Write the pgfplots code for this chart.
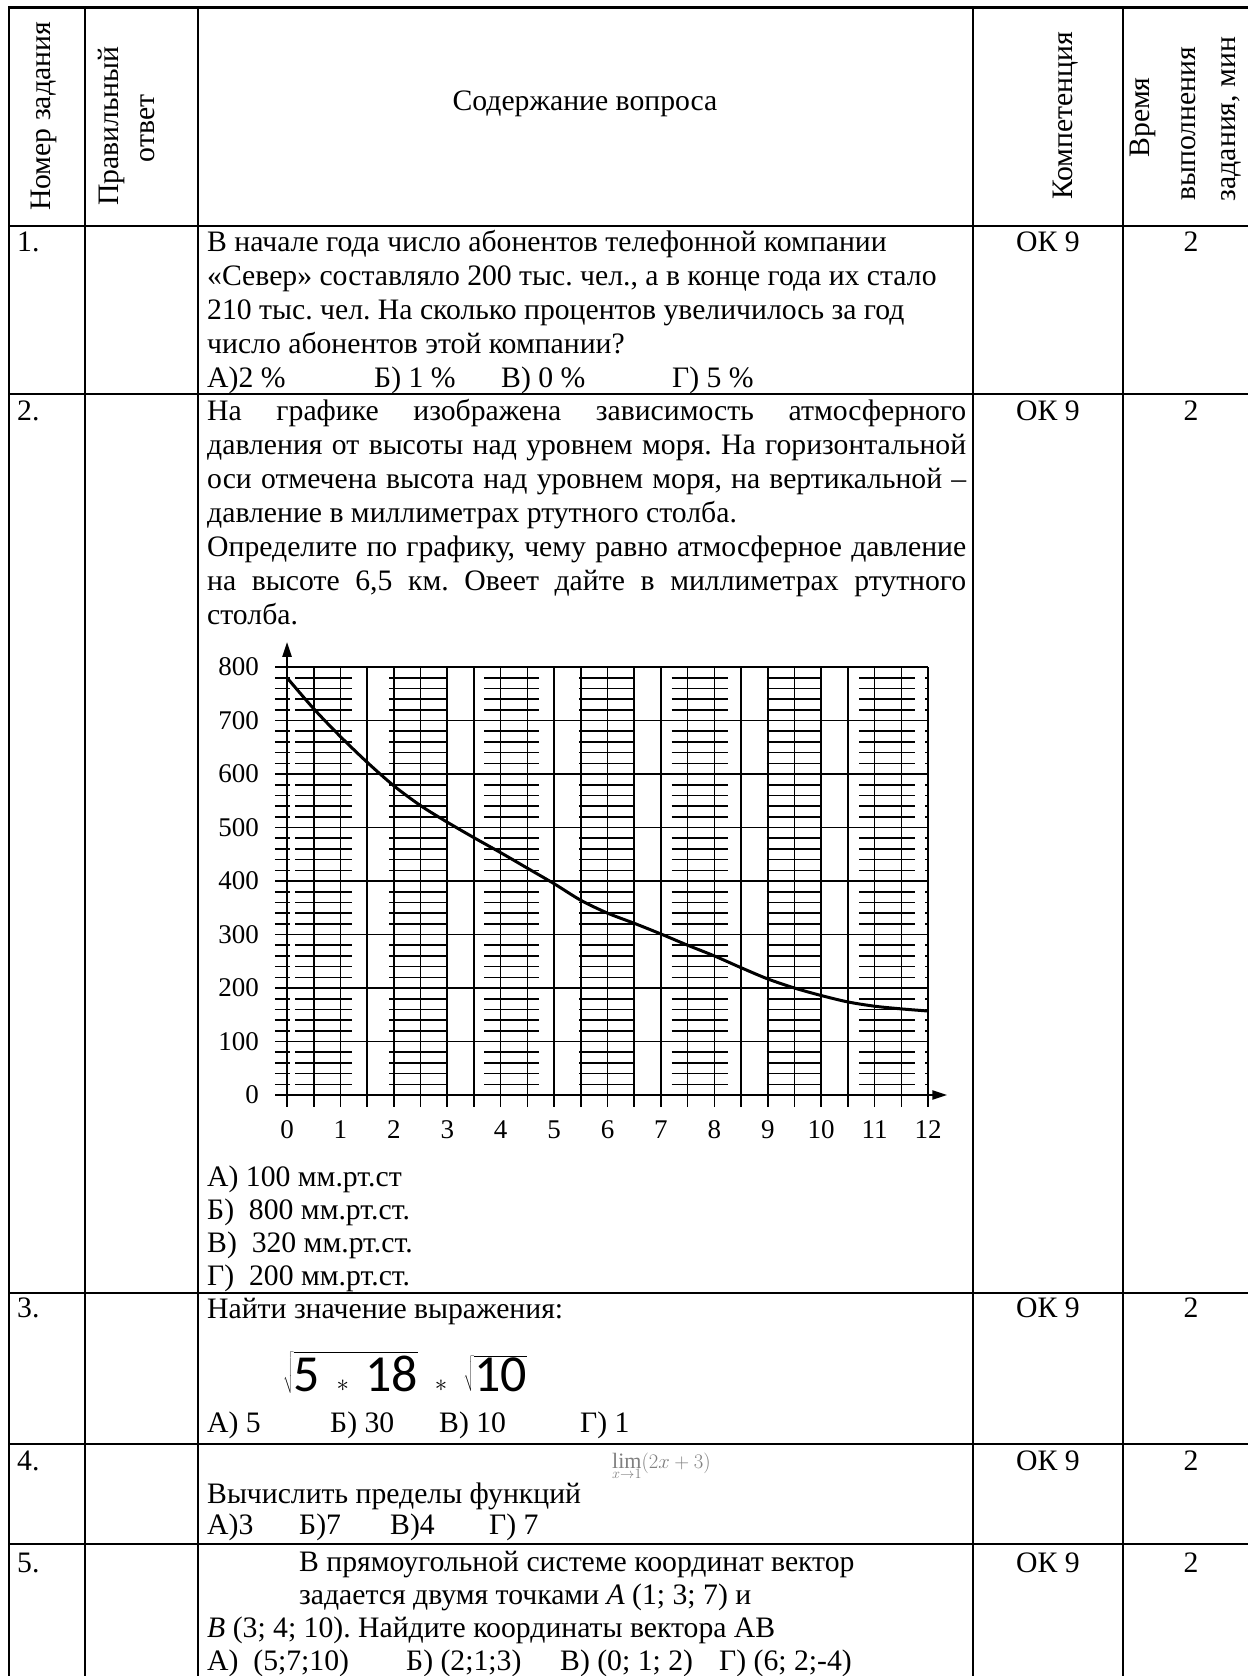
\documentclass[border=0pt]{standalone}
\usepackage{fontspec}
\setmainfont{Liberation Serif}
\newfontfamily\carlito{Carlito}
\usepackage{pgfplots}
\pgfplotsset{compat=1.18}
\usetikzlibrary{arrows.meta}
\def\minorys{20,40,60,80,120,140,160,180,220,240,260,280,320,340,360,380,420,440,460,480,520,540,560,580,620,640,660,680,720,740,760,780}
\newcommand\T{\fontsize{29.7bp}{34bp}\selectfont\frenchspacing}
\tikzset{tx/.style={anchor=base west, inner sep=0pt, font=\T},
         tc/.style={anchor=base, inner sep=0pt, font=\T},
         hd/.style={rotate=90, inner sep=0pt, font=\T}}
\newcommand\strip[2]{\draw[line width=1.6bp] \foreach \yy in \minorys {(axis cs:#1,\yy) -- (axis cs:#2,\yy)};}
\begin{document}
\frenchspacing
\begin{tikzpicture}[x=1bp,y=1bp]
\path[use as bounding box, fill=white] (0,0) rectangle (1247,-1676);
% table rules
\draw[line width=2.6bp] (8.3,-7.3) -- (1262,-7.3);
\foreach \yy in {226,394,1293,1444,1544} {\draw[line width=2.6bp] (8.3,-\yy) -- (1262,-\yy);}
\foreach \xx in {9.3,85,198,973.3,1123.3} {\draw[line width=2bp] (\xx,-7.3) -- (\xx,-1700);}
% header
\node[hd] at (44,-116.5) {Номер задания};
\node[hd] at (111,-126) {Правильный};
\node[hd] at (148,-128.5) {ответ};
\node[tc] at (585,-110) {Содержание вопроса};
\node[hd] at (1066,-116) {Компетенция};
\node[hd] at (1143,-117.5) {Время};
\node[hd] at (1189,-123.5) {выполнения};
\node[hd] at (1231,-119) {задания, мин};
% competence / time columns
\foreach \bb in {251,420,1317,1470,1572} {
  \node[tc] at (1048,-\bb) {ОК 9};
  \node[tc] at (1191,-\bb) {2};
}
% numbers
\node[tx] at (17,-251) {1.};
\node[tx] at (17,-420) {2.};
\node[tx] at (17,-1317) {3.};
\node[tx] at (17,-1470) {4.};
\node[tx] at (17,-1572) {5.};
% row 1
\node[tx] at (207,-251) {В начале года число абонентов телефонной компании};
\node[tx] at (207,-285) {«Север» составляло 200 тыс. чел., а в конце года их стало};
\node[tx] at (207,-319) {210 тыс. чел. На сколько процентов увеличилось за год};
\node[tx] at (207,-353) {число абонентов этой компании?};
\node[tx] at (207,-387) {А)2 \%};
\node[tx] at (374,-387) {Б) 1 \%};
\node[tx] at (501,-387) {В) 0 \%};
\node[tx] at (672,-387) {Г) 5 \%};
% row 2
\node[tx] at (207,-420) {\makebox[759bp][s]{На графике изображена зависимость атмосферного}};
\node[tx] at (207,-454) {\makebox[759bp][s]{давления от высоты над уровнем моря. На горизонтальной}};
\node[tx] at (207,-488) {\makebox[759bp][s]{оси отмечена высота над уровнем моря, на вертикальной –}};
\node[tx] at (207,-522) {давление в миллиметрах ртутного столба.};
\node[tx] at (207,-556) {\makebox[759bp][s]{Определите по графику, чему равно атмосферное давление}};
\node[tx] at (207,-590) {\makebox[759bp][s]{на высоте 6,5 км. Овеет дайте в миллиметрах ртутного}};
\node[tx] at (207,-624) {столба.};
\begin{axis}[at={(287bp,-1095bp)}, anchor=origin,
  scale only axis, width=641bp, height=428bp,
  xmin=0, xmax=12, ymin=0, ymax=800, clip=false,
  axis line style={draw=none}, tick style={draw=none},
  xtick={0,1,...,12}, xticklabels={0,1,2,3,4,5,6,7,8,9,10,11,12},
  ytick={0,100,...,800}, yticklabels={0,100,200,300,400,500,600,700,800},
  /pgf/number format/assume math mode=true,
  ticklabel style={font=\fontsize{27bp}{27bp}\selectfont, inner sep=0pt},
  x tick label style={anchor=center, yshift=-35bp},
  y tick label style={anchor=east, xshift=-28bp},
]
\draw[line width=1.6bp] \foreach \xx in {0.5,1,...,12} {(axis cs:\xx,-22) -- (axis cs:\xx,800)};
\draw[line width=1.6bp] \foreach \yy in {100,200,...,800} {(axis cs:-0.22,\yy) -- (axis cs:12,\yy)};
\strip{-0.225}{0.056}
\strip{0.15}{1.22}
\strip{1.91}{2.98}
\strip{3.69}{4.72}
\strip{5.47}{6.50}
\strip{7.20}{8.25}
\strip{8.98}{9.97}
\strip{10.71}{11.76}
\strip{11.95}{12.0}
\draw[line width=2.4bp, -{Triangle[length=15bp, width=9bp]}] (axis cs:-0.22,0) -- (axis cs:12.36,0);
\draw[line width=2.4bp, -{Triangle[length=15bp, width=9bp]}] (axis cs:0,-22) -- (axis cs:0,847);
\addplot[black, line width=3bp, smooth] coordinates {
(0,780) (0.5,722) (1,670) (1.5,622) (2,578) (2.5,541) (3,510) (3.5,481)
(4,453) (4.5,424) (5,395) (5.5,364) (6,340) (6.5,321) (7,301) (7.5,280)
(8,260) (8.5,238) (9,217) (9.5,200) (10,186) (10.5,174) (11,166) (11.5,161) (12,157)};
\end{axis}
% chart answers
\node[tx] at (207,-1186) {А) 100 мм.рт.ст};
\node[tx] at (207,-1219) {Б)~ 800 мм.рт.ст.};
\node[tx] at (207,-1252) {В)~ 320 мм.рт.ст.};
\node[tx] at (207,-1285) {Г)~ 200 мм.рт.ст.};
% row 3
\node[tx] at (207,-1318) {Найти значение выражения:};
\node[anchor=base west, inner sep=0pt, font=\fontsize{52bp}{56bp}\selectfont] at (283,-1391)
  {$\sqrt{\hbox{\carlito 5}\mskip8mu\ast\mskip8mu\hbox{\carlito 18}}\mskip8mu\ast\mskip8mu\sqrt{\hbox{\carlito 10}}$};
\node[tx] at (207,-1432) {А) 5};
\node[tx] at (330,-1432) {Б) 30};
\node[tx] at (439,-1432) {В) 10};
\node[tx] at (580,-1432) {Г) 1};
% row 4
\node[anchor=base west, inner sep=0pt, text=black!50, font=\fontsize{22bp}{24bp}\selectfont] at (612,-1468) {$\lim\limits_{x\to1}(2x+3)$};
\node[tx] at (207,-1503) {Вычислить пределы функций};
\node[tx] at (207,-1534) {А)3};
\node[tx] at (299,-1534) {Б)7};
\node[tx] at (390,-1534) {В)4};
\node[tx] at (489,-1534) {Г) 7};
% row 5
\node[tx] at (299,-1571) {В прямоугольной системе координат вектор};
\node[tx] at (299,-1604) {задается двумя точками \textit{A} (1; 3; 7) и};
\node[tx] at (207,-1637) {\textit{B} (3; 4; 10). Найдите координаты вектора АВ};
\node[tx] at (207,-1670) {А)~ (5;7;10)};
\node[tx] at (406,-1670) {Б) (2;1;3)};
\node[tx] at (560,-1670) {В) (0; 1; 2)};
\node[tx] at (719,-1670) {Г) (6; 2;-4)};
\end{tikzpicture}
\end{document}
